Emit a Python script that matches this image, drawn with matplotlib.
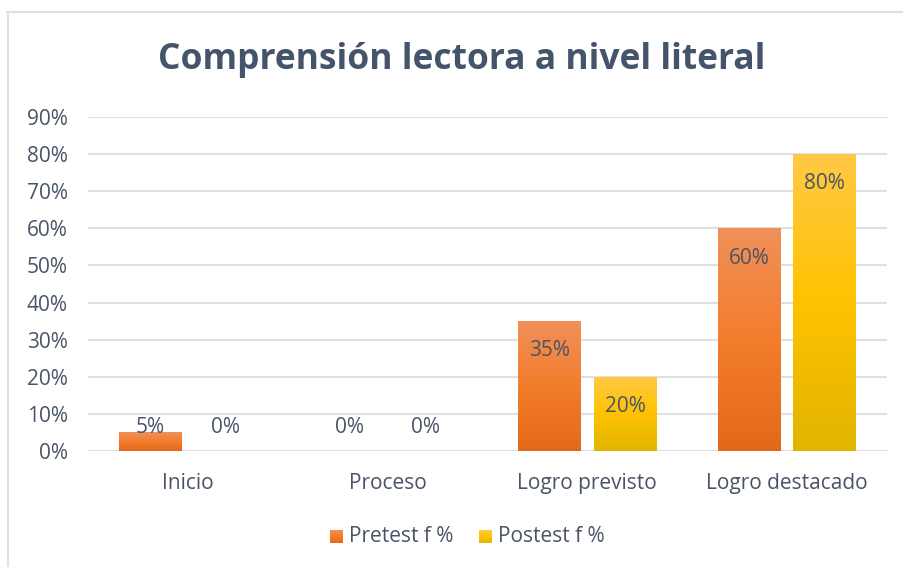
import matplotlib
matplotlib.use("Agg")
import matplotlib.pyplot as plt
import numpy as np
from matplotlib.colors import LinearSegmentedColormap
from matplotlib.lines import Line2D

categories = ["Inicio", "Proceso", "Logro previsto", "Logro destacado"]
pretest = [5, 0, 35, 60]
postest = [0, 0, 20, 80]
series_names = ["Pretest f %", "Postest f %"]
yticks = [0, 10, 20, 30, 40, 50, 60, 70, 80, 90]
title = "Comprensión lectora a nivel literal"

FONT = ["Open Sans", "DejaVu Sans"]
TXT = "#4A5466"
FS = 15

fig = plt.figure(figsize=(9.04, 5.67), dpi=100)
ax = fig.add_axes([88/904, 1-451/567, (887-88)/904, (451-117)/567])

cmap_pre = LinearSegmentedColormap.from_list("pre", ["#F0905A", "#F37D2C", "#E3691A"])
cmap_post = LinearSegmentedColormap.from_list("post", ["#FFC945", "#FFC200", "#E1B500"])

w = 0.315
off = 0.6 * w
x = np.arange(len(categories))
grad = np.linspace(0, 1, 256).reshape(-1, 1)

def draw(vals, dx, cmap):
    bars = ax.bar(x + dx, vals, width=w, color="none", edgecolor="none", zorder=2)
    for b, v in zip(bars, vals):
        if v <= 0:
            continue
        x0 = b.get_x()
        im = ax.imshow(grad, cmap=cmap, aspect="auto",
                       extent=[x0, x0 + b.get_width(), 0, v],
                       origin="upper", zorder=2)
        im.set_clip_path(b)
    for xi, v in zip(x + dx, vals):
        ax.text(xi, max(v - 8.0, 6.2), f"{v}%", ha="center", va="center",
                fontsize=FS, color=TXT, family=FONT, zorder=3)

draw(pretest, -off, cmap_pre)
draw(postest, off, cmap_post)

ax.set_xlim(-0.5, 3.5)
ax.set_ylim(0, 90)
ax.set_yticks(yticks)
ax.set_yticklabels([f"{t}%" for t in yticks], family=FONT, fontsize=FS, color=TXT)
ax.set_xticks(x)
ax.set_xticklabels(categories, family=FONT, fontsize=FS, color=TXT)
ax.tick_params(axis="both", length=0)
ax.tick_params(axis="y", pad=14.5)
ax.tick_params(axis="x", pad=16)
ax.grid(axis="y", color="#DDE1E7", linewidth=1.5, zorder=0)
ax.set_axisbelow(True)
for s in ax.spines.values():
    s.set_visible(False)
ax.set_facecolor("none")

fig.text(462/904, 1-60/567, title, ha="center", va="center", fontsize=25.5,
         fontweight="bold", color="#44546A", family=FONT)

# chart border
fig.add_artist(Line2D([7/904, 1], [1-12/567, 1-12/567], color="#DDE1E7", lw=1.5))
fig.add_artist(Line2D([7.5/904, 7.5/904], [1-12/567, 0], color="#DDE1E7", lw=1.5))

# legend
def legend_item(xpix, cmap, label):
    lax = fig.add_axes([xpix/904, 1-543/567, 13/904, 13/567])
    lax.imshow(grad, cmap=cmap, aspect="auto", origin="upper")
    lax.axis("off")
    fig.text((xpix+19)/904, 1-536/567, label, ha="left", va="center",
             fontsize=FS, color=TXT, family=FONT)

legend_item(330, cmap_pre, series_names[0])
legend_item(479, cmap_post, series_names[1])

fig.savefig("out.png", dpi=100, facecolor="white")
